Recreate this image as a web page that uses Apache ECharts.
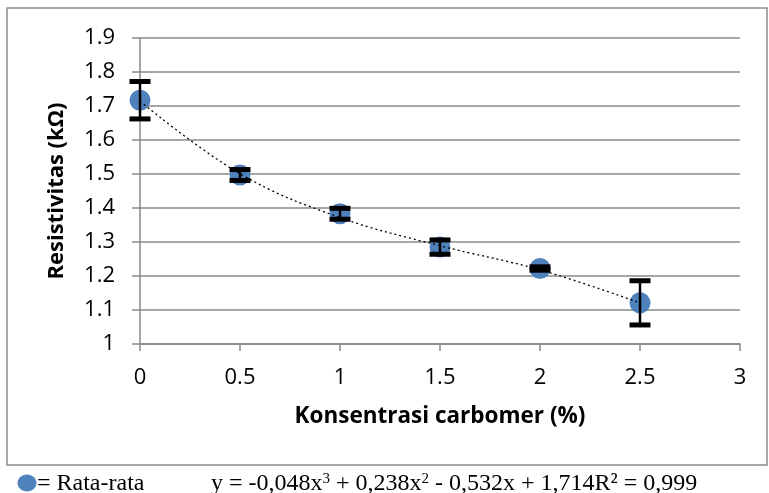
<!DOCTYPE html>
<html>
<head>
<meta charset="utf-8">
<script src="https://cdn.jsdelivr.net/npm/echarts@6/dist/echarts.min.js"></script>
<style>
  html, body { margin: 0; padding: 0; background: #fff; }
  #chart { width: 769px; height: 493px; }
</style>
</head>
<body>
<div id="chart"></div>
<script>
// konsentrasi carbomer (%)
const konsentrasi = [0, 0.5, 1, 1.5, 2, 2.5];
// rata-rata resistivitas (kΩ)
const rataRata = [1.717, 1.497, 1.383, 1.285, 1.222, 1.121];
// simpangan (error bar, ±)
const simpangan = [0.055, 0.016, 0.016, 0.021, 0.005, 0.065];
// garis tren polinomial
const trenX = [0, 0.5, 1, 1.5, 2, 2.5];
const trenY = [1.714, 1.501, 1.372, 1.289, 1.218, 1.121];

const xTicks = [0, 0.5, 1, 1.5, 2, 2.5, 3];
const yTicks = [1, 1.1, 1.2, 1.3, 1.4, 1.5, 1.6, 1.7, 1.8, 1.9];

const chart = echarts.init(document.getElementById('chart'));

const gray = '#888888';
const tickFont = { fontFamily: 'Open Sans', fontSize: 22, color: '#000' };

chart.setOption({
  animation: false,
  grid: { left: 140, right: 29, top: 38, bottom: 149 },
  xAxis: {
    type: 'value',
    min: xTicks[0],
    max: xTicks[xTicks.length - 1],
    interval: 0.5,
    name: 'Konsentrasi carbomer (%)',
    nameLocation: 'middle',
    nameGap: 61,
    nameTextStyle: { fontFamily: 'Open Sans', fontWeight: 'bold', fontSize: 22.5, color: '#000' },
    axisLine: { show: true, lineStyle: { color: gray, width: 1.5 } },
    axisTick: { show: true, length: 7, lineStyle: { color: gray, width: 1.5 } },
    axisLabel: { ...tickFont, margin: 23 },
    splitLine: { show: false }
  },
  yAxis: {
    type: 'value',
    min: yTicks[0],
    max: yTicks[yTicks.length - 1],
    interval: 0.1,
    name: 'Resistivitas (kΩ)',
    nameLocation: 'middle',
    nameRotate: 90,
    nameGap: 72,
    nameTextStyle: { fontFamily: 'Open Sans', fontWeight: 'bold', fontSize: 22, color: '#000' },
    axisLine: { show: true, lineStyle: { color: gray, width: 1.5 } },
    axisTick: { show: true, length: 8, lineStyle: { color: gray, width: 1.5 } },
    axisLabel: {
      ...tickFont,
      margin: 25,
      formatter: v => (Math.abs(v - 1) < 1e-9 ? '1' : v.toFixed(1))
    },
    splitLine: { show: true, lineStyle: { color: gray, width: 1.5 } }
  },
  series: [
    {
      type: 'line',
      data: trenX.map((x, i) => [x, trenY[i]]),
      smooth: 0.4,
      showSymbol: false,
      lineStyle: { color: '#000', width: 1.3, type: [2, 3] },
      z: 3
    },
    {
      type: 'scatter',
      data: konsentrasi.map((x, i) => [x, rataRata[i]]),
      symbol: 'circle',
      symbolSize: 21,
      itemStyle: { color: '#4F81BD', opacity: 1 },
      z: 2
    },
    {
      type: 'custom',
      z: 4,
      data: konsentrasi.map((x, i) => [x, rataRata[i] - simpangan[i], rataRata[i] + simpangan[i]]),
      renderItem: (params, api) => {
        const lo = api.coord([api.value(0), api.value(1)]);
        const hi = api.coord([api.value(0), api.value(2)]);
        const half = 10.5;
        const style = { stroke: '#000', lineWidth: 5 };
        return {
          type: 'group',
          children: [
            { type: 'line', shape: { x1: lo[0], y1: lo[1], x2: hi[0], y2: hi[1] }, style: { stroke: '#000', lineWidth: 2.5 } },
            { type: 'line', shape: { x1: lo[0] - half, y1: lo[1], x2: lo[0] + half, y2: lo[1] }, style },
            { type: 'line', shape: { x1: hi[0] - half, y1: hi[1], x2: hi[0] + half, y2: hi[1] }, style }
          ]
        };
      }
    }
  ],
  graphic: [
    {
      type: 'rect',
      shape: { x: 7, y: 8, width: 760, height: 457 },
      style: { fill: 'none', stroke: '#8c8c8c', lineWidth: 1.5 },
      z: -1
    },
    {
      type: 'ellipse',
      shape: { cx: 27, cy: 483, rx: 9.5, ry: 8.5 },
      style: { fill: '#4F81BD' }
    },
    {
      type: 'text',
      x: 37, y: 484,
      style: {
        text: '= Rata-rata',
        fontFamily: 'Liberation Serif', fontSize: 24, fill: '#000',
        verticalAlign: 'middle'
      }
    },
    {
      type: 'text',
      x: 211, y: 484,
      style: {
        text: 'y = -0,048x{sup|3} + 0,238x{sup|2} - 0,532x + 1,714R² = 0,999',
        fontFamily: 'Liberation Serif', fontSize: 24, fill: '#000',
        verticalAlign: 'middle',
        rich: {
          sup: { fontFamily: 'Liberation Serif', fontSize: 15, fill: '#000', verticalAlign: 'top', padding: [0, 0, 10, 0] }
        }
      }
    }
  ]
});
</script>
</body>
</html>
